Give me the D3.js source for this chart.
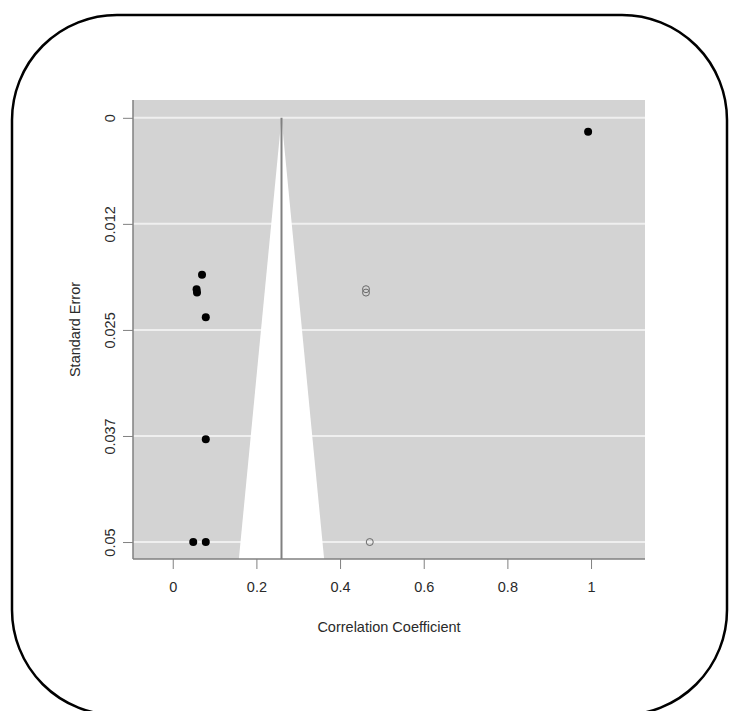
<!DOCTYPE html>
<html>
<head>
<meta charset="utf-8">
<script src="https://cdn.jsdelivr.net/npm/d3@7"></script>
<style>
body { margin: 0; background: #fff; }
text { font-family: "Liberation Sans", Arial, sans-serif; }
</style>
</head>
<body>
<svg id="chart" width="736" height="711"></svg>
<script>
//Funnel plot data (correlation coefficients against standard errors)
const OBS_X = [0.993, 0.070, 0.057, 0.058, 0.079, 0.079, 0.049, 0.079];
const OBS_SE = [0.00165, 0.0185, 0.0202, 0.0206, 0.0235, 0.0379, 0.0500, 0.0500];
const FILLED_X = [0.462, 0.462, 0.471];
const FILLED_SE = [0.0202, 0.0206, 0.0500];
const ESTIMATE = 0.26;
const Y_TICKS = [0, 0.0125, 0.025, 0.0375, 0.05];
const Y_LABELS = ["0", "0.012", "0.025", "0.037", "0.05"];
const X_TICKS = [0, 0.2, 0.4, 0.6, 0.8, 1];
const X_LABELS = ["0", "0.2", "0.4", "0.6", "0.8", "1"];
const X_DOMAIN = [-0.095, 1.129];
const Y_DOMAIN = [-0.0021, 0.052];

const PANEL = {left: 133, right: 645, top: 100, bottom: 559};
const AXIS_GRAY = "#808080";
const TEXT_COLOR = "#2a2a2a";
const FONT_SIZE = 14.5;

const svg = d3.select("#chart");

//Rounded frame around the whole figure
svg.append("rect")
	.attr("x", 12)
	.attr("y", 15)
	.attr("width", 715)
	.attr("height", 700)
	.attr("rx", 105)
	.attr("ry", 105)
	.attr("fill", "none")
	.attr("stroke", "#000")
	.attr("stroke-width", 2.5);

const x = d3.scaleLinear().domain(X_DOMAIN).range([PANEL.left, PANEL.right]);
const y = d3.scaleLinear().domain(Y_DOMAIN).range([PANEL.top, PANEL.bottom]);

//Gray panel background
svg.append("rect")
	.attr("x", PANEL.left)
	.attr("y", PANEL.top)
	.attr("width", PANEL.right - PANEL.left)
	.attr("height", PANEL.bottom - PANEL.top)
	.attr("fill", "#d3d3d3");

//White horizontal reference lines
svg.selectAll(".hline")
	.data(Y_TICKS)
	.enter()
	.append("line")
	.attr("class", "hline")
	.attr("x1", PANEL.left)
	.attr("x2", PANEL.right)
	.attr("y1", d => y(d))
	.attr("y2", d => y(d))
	.attr("stroke", "#efefef")
	.attr("stroke-width", 2);

//White pseudo confidence region
const seMax = Y_DOMAIN[1];
const funnel = [
	[ESTIMATE - 1.96 * seMax, seMax],
	[ESTIMATE, 0],
	[ESTIMATE + 1.96 * seMax, seMax]
];
svg.append("polygon")
	.attr("points", funnel.map(p => x(p[0]) + "," + y(p[1])).join(" "))
	.attr("fill", "#fff");

//Vertical line at the pooled estimate
svg.append("line")
	.attr("x1", x(ESTIMATE))
	.attr("x2", x(ESTIMATE))
	.attr("y1", y(0))
	.attr("y2", PANEL.bottom)
	.attr("stroke", AXIS_GRAY)
	.attr("stroke-width", 2);

//Axes
const yAxis = d3.axisLeft(y)
	.tickValues(Y_TICKS)
	.tickFormat((d, i) => Y_LABELS[i])
	.tickSize(10);
const gy = svg.append("g")
	.attr("transform", "translate(" + PANEL.left + ",0)")
	.call(yAxis);
gy.select(".domain").remove();
gy.selectAll(".tick line").attr("stroke", AXIS_GRAY);
//labels parallel to the axis, as R draws them
gy.selectAll(".tick text")
	.attr("x", -23.5)
	.attr("y", 0)
	.attr("dy", "0.35em")
	.attr("transform", "rotate(-90,-23.5,0)")
	.style("text-anchor", "middle")
	.attr("font-size", FONT_SIZE)
	.attr("fill", TEXT_COLOR);

const xAxis = d3.axisBottom(x)
	.tickValues(X_TICKS)
	.tickFormat((d, i) => X_LABELS[i])
	.tickSize(10)
	.tickPadding(13);
const gx = svg.append("g")
	.attr("transform", "translate(0," + PANEL.bottom + ")")
	.call(xAxis);
gx.select(".domain").remove();
gx.selectAll(".tick line").attr("stroke", AXIS_GRAY);
gx.selectAll(".tick text")
	.attr("font-size", FONT_SIZE)
	.attr("fill", TEXT_COLOR);

//Axis lines along the panel edges
svg.append("line")
	.attr("x1", PANEL.left).attr("x2", PANEL.left)
	.attr("y1", PANEL.top).attr("y2", PANEL.bottom)
	.attr("stroke", AXIS_GRAY).attr("stroke-width", 1.5);
svg.append("line")
	.attr("x1", PANEL.left).attr("x2", PANEL.right)
	.attr("y1", PANEL.bottom).attr("y2", PANEL.bottom)
	.attr("stroke", AXIS_GRAY).attr("stroke-width", 1.5);

//Observed studies
svg.selectAll(".obs")
	.data(OBS_X)
	.enter()
	.append("circle")
	.attr("class", "obs")
	.attr("cx", d => x(d))
	.attr("cy", (d, i) => y(OBS_SE[i]))
	.attr("r", 4)
	.attr("fill", "#000");

//Imputed (trim and fill) studies
svg.selectAll(".fill")
	.data(FILLED_X)
	.enter()
	.append("circle")
	.attr("class", "fill")
	.attr("cx", d => x(d))
	.attr("cy", (d, i) => y(FILLED_SE[i]))
	.attr("r", 3.5)
	.attr("fill", "none")
	.attr("stroke", "#6a6a6a")
	.attr("stroke-width", 1);

//Axis titles
svg.append("text")
	.attr("x", (PANEL.left + PANEL.right) / 2)
	.attr("y", 632)
	.attr("text-anchor", "middle")
	.attr("font-size", FONT_SIZE)
	.attr("fill", TEXT_COLOR)
	.text("Correlation Coefficient");
svg.append("text")
	.attr("transform", "translate(80," + ((PANEL.top + PANEL.bottom) / 2) + ") rotate(-90)")
	.attr("text-anchor", "middle")
	.attr("font-size", FONT_SIZE)
	.attr("fill", TEXT_COLOR)
	.text("Standard Error");
</script>
</body>
</html>
